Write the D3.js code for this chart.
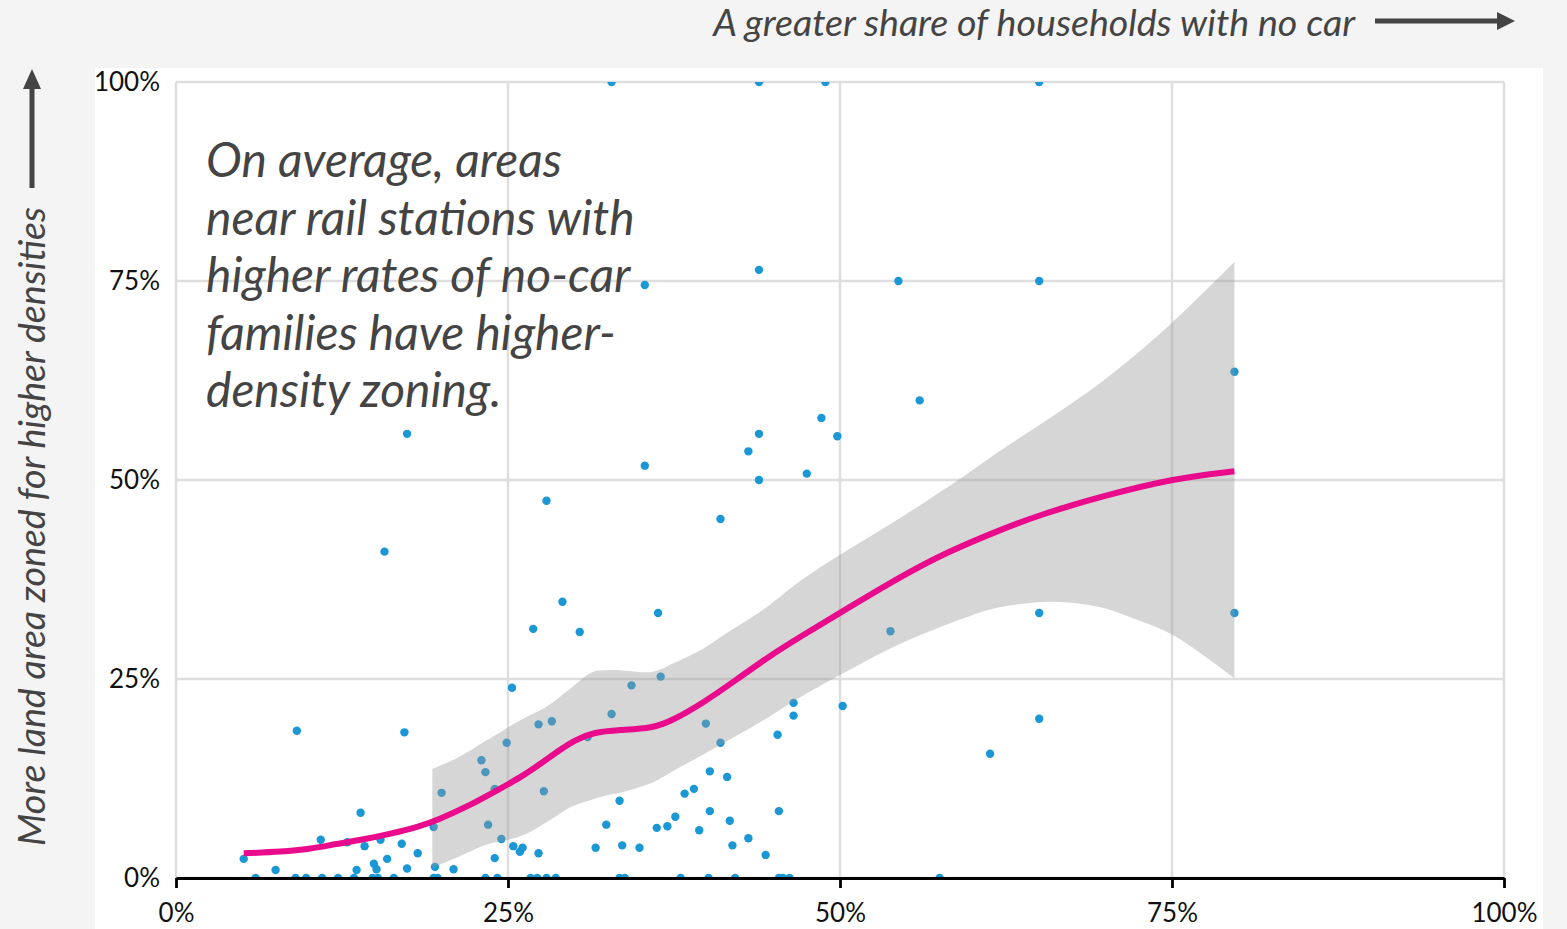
<!DOCTYPE html>
<html>
<head>
<meta charset="utf-8">
<script src="https://cdn.jsdelivr.net/npm/d3@7"></script>
<style>
  html, body { margin: 0; padding: 0; background: #f4f4f4; }
  svg { display: block; font-family: Lato, "Open Sans", sans-serif; }
</style>
</head>
<body>
<svg id="chart" width="1567" height="929"></svg>
<script>
// Station areas: share of households with no car (x, %) vs share of land zoned for higher densities (y, %)
const noCarShare = [
  5.1, 6.0, 7.5, 9.0, 9.1, 9.8, 10.9, 11.0, 12.2, 12.9, 13.4, 13.6, 13.9, 14.2, 14.8, 14.9, 15.1, 15.2, 15.4, 15.7,
  15.9, 16.4, 17.0, 17.2, 17.4, 17.4, 18.2, 19.4, 19.4, 19.5, 19.7, 20.0, 20.9, 23.0, 23.3, 23.3, 23.5, 24.0, 24.0, 24.2,
  24.5, 24.9, 25.3, 25.4, 25.9, 26.1, 26.7, 26.9, 27.2, 27.3, 27.3, 27.7, 27.9, 27.9, 28.3, 28.6, 29.1, 30.4, 31.0, 31.6,
  32.4, 32.8, 32.8, 33.4, 33.4, 33.6, 33.8, 34.3, 34.9, 35.3, 35.3, 36.2, 36.3, 36.5, 37.0, 37.6, 38.0, 38.3, 39.0, 39.4,
  39.9, 40.1, 40.2, 40.2, 41.0, 41.0, 41.5, 41.7, 41.9, 42.1, 43.1, 43.1, 43.9, 43.9, 43.9, 43.9, 44.4, 45.3, 45.4, 45.4,
  45.7, 46.2, 46.5, 46.5, 47.5, 48.6, 48.9, 49.8, 50.2, 53.8, 54.4, 56.0, 57.5, 61.3, 65.0, 65.0, 65.0, 65.0, 79.7, 79.7
];
const zonedShare = [
  2.4, 0, 1.0, 0, 18.5, 0, 4.8, 0, 0, 4.5, 0, 1.0, 8.2, 4.0, 0, 1.8, 1.1, 0, 4.8, 41.0,
  2.4, 0, 4.3, 18.3, 55.8, 1.2, 3.1, 6.4, 0, 1.4, 0, 10.7, 1.1, 14.8, 13.3, 0, 6.7, 11.2, 2.5, 0,
  4.9, 17.0, 23.9, 4.0, 3.3, 3.8, 0, 31.3, 0, 19.3, 3.1, 10.9, 47.4, 0, 19.7, 0, 34.7, 30.9, 17.7, 3.8,
  6.7, 20.6, 100, 9.7, 0, 4.1, 0, 24.2, 3.8, 74.5, 51.8, 6.3, 33.3, 25.3, 6.5, 7.7, 0, 10.6, 11.2, 6.0,
  19.4, 0, 13.4, 8.4, 45.1, 17.0, 12.7, 7.2, 4.1, 0, 53.6, 5.0, 100, 76.4, 55.8, 50.0, 2.9, 18.0, 8.4, 0,
  0, 0, 22.0, 20.4, 50.8, 57.8, 100, 55.5, 21.6, 31.0, 75.0, 60.0, 0, 15.6, 100, 75.0, 33.3, 20.0, 63.6, 33.3
];

// Smoothed trend (loess) through the points
const trendX = [5.1, 8, 10, 12.1, 14, 16, 18.4, 19.7, 22, 24.6, 25.9, 27.5, 28.9, 30, 31.4, 33.4, 35.9, 37.4, 39.7, 42.2, 44.7, 47, 50, 54.5, 58, 62, 65, 69.6, 75.1, 79.7];
const trendY = [3.1, 3.3, 3.6, 4.3, 4.8, 5.5, 6.5, 7.3, 9.0, 11.4, 12.6, 14.4, 16.1, 17.3, 18.3, 18.6, 18.8, 19.8, 22.0, 24.9, 27.9, 30.3, 33.3, 37.8, 40.9, 43.7, 45.6, 47.9, 50.2, 51.1];

// Confidence band around the trend
const bandX    = [19.3, 21.2, 23.4, 25.9, 27.9, 29.7, 31.4, 32.5, 33.4, 35.9, 37.5, 39.7, 41.5, 43.4, 44.7, 47, 50, 54.5, 59.6, 62.0, 66.0, 69.6, 72.1, 75.1, 79.7];
const bandLow  = [1.3, 2.6, 4.2, 5.2, 7.0, 8.9, 9.9, 10.4, 10.7, 12.0, 13.5, 15.5, 17.2, 19.0, 20.3, 22.7, 25.5, 29.4, 32.8, 34.0, 34.7, 34.0, 32.6, 30.5, 25.1];
const bandHigh = [13.7, 15.1, 17.3, 19.8, 21.5, 23.8, 25.9, 26.1, 26.1, 25.9, 27.0, 28.8, 30.8, 32.8, 34.3, 37.3, 40.6, 45.2, 50.8, 53.6, 58.0, 62.2, 65.5, 69.9, 77.4];

const tickValues = [0, 25, 50, 75, 100];
const tickLabels = ["0%", "25%", "50%", "75%", "100%"];

const annotationLines = [
  "On average, areas",
  "near rail stations with",
  "higher rates of no-car",
  "families have higher-",
  "density zoning."
];
const xTitle = "A greater share of households with no car";
const yTitle = "More land area zoned for higher densities";

const svg = d3.select("#chart");
const W = 1567, H = 929;

const x = d3.scaleLinear().domain([0, 100]).range([176, 1504]);
const y = d3.scaleLinear().domain([0, 100]).range([878, 82]);

// page background and white panel
svg.append("rect").attr("width", W).attr("height", H).attr("fill", "#f4f4f4");
svg.append("rect").attr("x", 95).attr("y", 68).attr("width", 1448).attr("height", H - 68).attr("fill", "#ffffff");

// grid
const grid = svg.append("g");
grid.selectAll("line.v").data(tickValues).join("line")
  .attr("x1", d => x(d)).attr("x2", d => x(d))
  .attr("y1", y(100)).attr("y2", y(0))
  .attr("stroke", "#dedede").attr("stroke-width", 2.5);
grid.selectAll("line.h").data(tickValues).join("line")
  .attr("x1", x(0)).attr("x2", x(100))
  .attr("y1", d => y(d)).attr("y2", d => y(d))
  .attr("stroke", "#dedede").attr("stroke-width", 2.5);

// clip to the plotting area
svg.append("clipPath").attr("id", "plotClip")
  .append("rect")
  .attr("x", x(0)).attr("y", y(100))
  .attr("width", x(100) - x(0)).attr("height", y(0) - y(100));

const points = noCarShare.map((v, i) => ({ x: v, y: zonedShare[i] }));
svg.append("g").attr("clip-path", "url(#plotClip)")
  .selectAll("circle").data(points).join("circle")
  .attr("cx", d => x(d.x)).attr("cy", d => y(d.y))
  .attr("r", 4.2)
  .attr("fill", "#1b97d6");

// confidence band
const band = bandX.map((v, i) => ({ x: v, lo: bandLow[i], hi: bandHigh[i] }));
svg.append("path").datum(band)
  .attr("d", d3.area().x(d => x(d.x)).y0(d => y(d.lo)).y1(d => y(d.hi)).curve(d3.curveCatmullRom.alpha(0.5)))
  .attr("fill", "#999999").attr("fill-opacity", 0.4);

// trend line
const trend = trendX.map((v, i) => ({ x: v, y: trendY[i] }));
svg.append("path").datum(trend)
  .attr("d", d3.line().x(d => x(d.x)).y(d => y(d.y)).curve(d3.curveBasis))
  .attr("fill", "none").attr("stroke", "#ea0a8c").attr("stroke-width", 6)
  .attr("stroke-linecap", "butt");

// x axis
const xAxis = svg.append("g").attr("transform", `translate(0,${y(0)})`)
  .call(d3.axisBottom(x).tickValues(tickValues).tickFormat((d, i) => tickLabels[i]).tickSize(10).tickSizeOuter(0).tickPadding(16));
xAxis.select(".domain").attr("stroke", "#000").attr("stroke-width", 2.8);
xAxis.selectAll(".tick line").attr("stroke", "#000").attr("stroke-width", 2.8);
xAxis.selectAll(".tick text").attr("font-size", 26).attr("fill", "#111").attr("font-family", "Lato");

// y axis labels
const yAxis = svg.append("g").attr("transform", `translate(${x(0)},0)`)
  .call(d3.axisLeft(y).tickValues(tickValues).tickFormat((d, i) => tickLabels[i]).tickSize(0).tickPadding(16));
yAxis.select(".domain").remove();
yAxis.selectAll(".tick text").attr("font-size", 26).attr("fill", "#111").attr("font-family", "Lato");

// annotation
const note = svg.append("text")
  .attr("x", 206).attr("y", 177)
  .attr("font-family", "Lato").attr("font-style", "italic")
  .attr("font-size", 48).attr("fill", "#444");
note.selectAll("tspan").data(annotationLines).join("tspan")
  .attr("x", 206).attr("dy", (d, i) => i === 0 ? 0 : 57.5)
  .text(d => d);

// x direction title with arrow
svg.append("text")
  .attr("x", 1355).attr("y", 36)
  .attr("text-anchor", "end")
  .attr("font-family", "Lato").attr("font-style", "italic")
  .attr("font-size", 37.6).attr("fill", "#444")
  .text(xTitle);
svg.append("line").attr("x1", 1375).attr("x2", 1500).attr("y1", 21).attr("y2", 21)
  .attr("stroke", "#444").attr("stroke-width", 5);
svg.append("path").attr("d", "M1497,12 L1515,21 L1497,30 Z").attr("fill", "#444");

// y direction title with arrow
svg.append("text")
  .attr("transform", "translate(45,846) rotate(-90)")
  .attr("font-family", "Lato").attr("font-style", "italic")
  .attr("font-size", 37.6).attr("fill", "#444")
  .text(yTitle);
svg.append("line").attr("x1", 32).attr("x2", 32).attr("y1", 188).attr("y2", 86)
  .attr("stroke", "#444").attr("stroke-width", 5);
svg.append("path").attr("d", "M23,89 L32,69 L41,89 Z").attr("fill", "#444");
</script>
</body>
</html>
